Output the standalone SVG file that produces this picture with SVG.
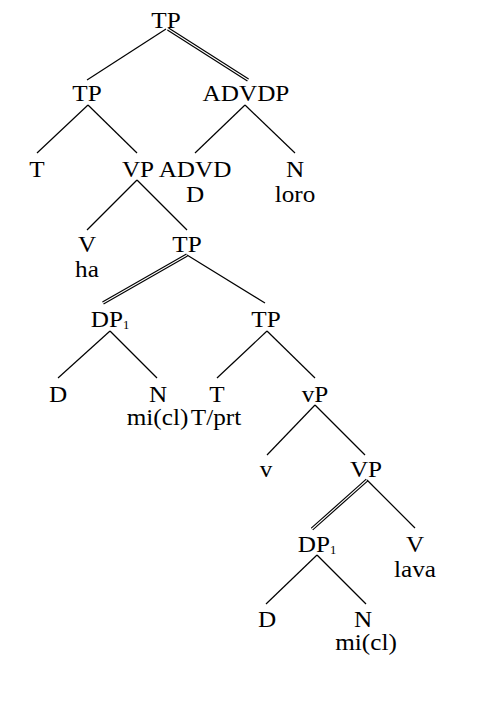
<svg xmlns="http://www.w3.org/2000/svg" width="489" height="710" viewBox="0 0 489 710">
<style>
.t{font-family:"Liberation Serif","Times New Roman",serif;font-size:24px;text-anchor:middle;fill:#000}
.s{font-size:12px}
.l{stroke:#000;stroke-width:1.2;fill:none}
.d1{stroke:#000;stroke-width:3.4;fill:none}
.d2{stroke:#fff;stroke-width:1.1;fill:none}
</style>
<rect width="489" height="710" fill="#fff"/>
<g id="connectors">
<line class="l" x1="166" y1="29" x2="87" y2="80" stroke-width="1"/>
<line class="d1" x1="168" y1="29" x2="248" y2="80"/>
<line class="d2" x1="168" y1="29" x2="248" y2="80"/>
<line class="l" x1="88" y1="105" x2="37" y2="153"/>
<line class="l" x1="88" y1="105" x2="137" y2="153"/>
<line class="l" x1="245" y1="105" x2="195" y2="153"/>
<line class="l" x1="245" y1="105" x2="295" y2="153"/>
<line class="l" x1="137" y1="180" x2="87" y2="230"/>
<line class="l" x1="137" y1="180" x2="187" y2="230"/>
<line class="d1" x1="187" y1="255" x2="103" y2="303"/>
<line class="d2" x1="187" y1="255" x2="103" y2="303"/>
<line class="l" x1="187" y1="255" x2="265" y2="303"/>
<line class="l" x1="110" y1="331" x2="58" y2="378"/>
<line class="l" x1="110" y1="331" x2="157" y2="378"/>
<line class="l" x1="267" y1="331" x2="217" y2="378"/>
<line class="l" x1="267" y1="331" x2="315" y2="378"/>
<line class="l" x1="315" y1="405" x2="267" y2="455"/>
<line class="l" x1="315" y1="405" x2="365" y2="455"/>
<line class="d1" x1="367" y1="480" x2="312" y2="529"/>
<line class="d2" x1="367" y1="480" x2="312" y2="529"/>
<line class="l" x1="367" y1="480" x2="415" y2="528"/>
<line class="l" x1="317" y1="555" x2="266" y2="604"/>
<line class="l" x1="317" y1="555" x2="366" y2="604"/>
</g>
<g id="n-tp-root"><text class="t" transform="translate(166,28) scale(1.05,1)">TP</text></g>
<g id="n-tp-left"><text class="t" transform="translate(87,101) scale(1.05,1)">TP</text></g>
<g id="n-advdp"><text class="t" transform="translate(246,101) scale(1.05,1)">ADVDP</text></g>
<g id="n-t1"><text class="t" transform="translate(37,177) scale(1.05,1)">T</text></g>
<g id="n-vp1"><text class="t" transform="translate(138,177) scale(1.05,1)">VP</text></g>
<g id="n-advd"><text class="t" transform="translate(195,177) scale(1.05,1)">ADVD</text><text class="t" transform="translate(195,202) scale(1.05,1)">D</text></g>
<g id="n-n-loro"><text class="t" transform="translate(295,177) scale(1.05,1)">N</text><text class="t" transform="translate(295,202) scale(1.05,1)">loro</text></g>
<g id="n-v-ha"><text class="t" transform="translate(87,252) scale(1.05,1)">V</text><text class="t" transform="translate(87,277) scale(1.05,1)">ha</text></g>
<g id="n-tp2"><text class="t" transform="translate(187,252) scale(1.05,1)">TP</text></g>
<g id="n-dp1a"><text class="t" transform="translate(110,327) scale(1.05,1)">DP<tspan class="s" dy="2">1</tspan></text></g>
<g id="n-tp3"><text class="t" transform="translate(266,327) scale(1.05,1)">TP</text></g>
<g id="n-d1"><text class="t" transform="translate(58,402) scale(1.05,1)">D</text></g>
<g id="n-n1"><text class="t" transform="translate(158,402) scale(1.05,1)">N</text><text class="t" transform="translate(157.5,425) scale(1.05,1)">mi(cl)</text></g>
<g id="n-t2"><text class="t" transform="translate(217,402) scale(1.05,1)">T</text><text class="t" transform="translate(216,425) scale(1.05,1)">T/prt</text></g>
<g id="n-vP"><text class="t" transform="translate(315,402) scale(1.05,1)">vP</text></g>
<g id="n-v"><text class="t" transform="translate(266,477) scale(1.05,1)">v</text></g>
<g id="n-vp2"><text class="t" transform="translate(366,477) scale(1.05,1)">VP</text></g>
<g id="n-dp1b"><text class="t" transform="translate(317,552) scale(1.05,1)">DP<tspan class="s" dy="2">1</tspan></text></g>
<g id="n-v-lava"><text class="t" transform="translate(415,552) scale(1.05,1)">V</text><text class="t" transform="translate(415,577) scale(1.05,1)">lava</text></g>
<g id="n-d2"><text class="t" transform="translate(267,627) scale(1.05,1)">D</text></g>
<g id="n-n2"><text class="t" transform="translate(363,627) scale(1.05,1)">N</text><text class="t" transform="translate(366,650) scale(1.05,1)">mi(cl)</text></g>
</svg>
